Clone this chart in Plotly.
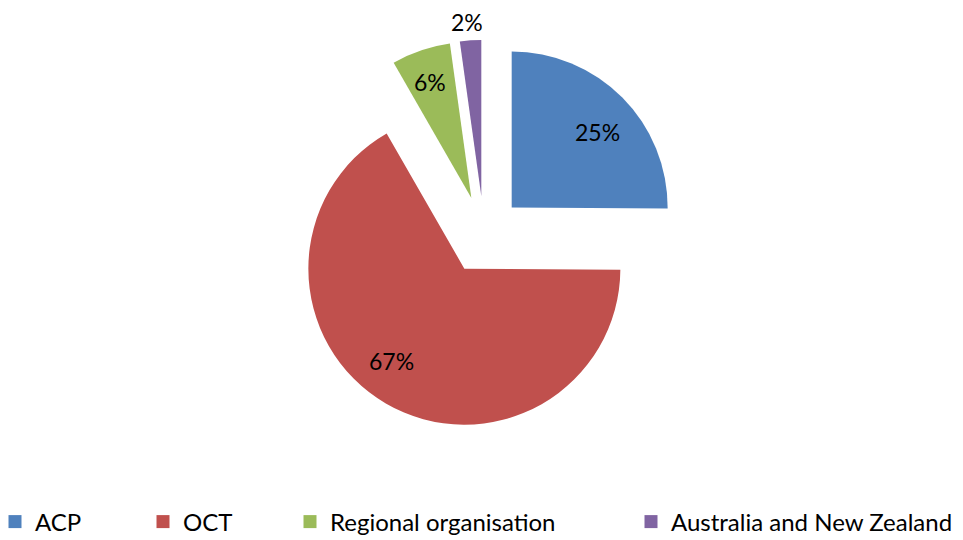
import math
import plotly.graph_objects as go

labels = ["ACP", "OCT", "Regional organisation", "Australia and New Zealand"]
values = [25.1, 66.6, 6.1, 2.2]
colors = ["#4F81BD", "#C0504D", "#9BBB59", "#8064A2"]

# ---- styling / layout (not data) ----
FONT = "Lato"
OFF = 8                      # page body margin of the browser
W, H = 963 - OFF, 540 - OFF  # figure fills the visible window
PULL = 0.25
CENTER_PX = (476, 227)       # pie centre in figure pixels
RADIUS_PX = 156
label_radius = [0.73, 0.75, 0.79, 1.12]     # label distance from slice tip, in radii
label_angle_shift = [2.6, 6.0, -0.6, -0.5]  # degrees
legend_x_px = [-13, 135, 282, 623]
legend_y_px = 514

half = RADIUS_PX * (1 + PULL)
DOMAIN_X = [(CENTER_PX[0] - half) / W, (CENTER_PX[0] + half) / W]
DOMAIN_Y = [1 - (CENTER_PX[1] + half) / H, 1 - (CENTER_PX[1] - half) / H]

fig = go.Figure()
fig.add_trace(
    go.Pie(
        labels=labels,
        values=values,
        sort=False,
        direction="clockwise",
        rotation=0,
        pull=[PULL] * len(values),
        marker=dict(colors=colors, line=dict(width=0)),
        textinfo="none",
        domain=dict(x=DOMAIN_X, y=DOMAIN_Y),
        hoverinfo="label+percent",
        showlegend=False,
    )
)

# percentage labels, placed from the data (mid-angle of every slice)
cx, cy = CENTER_PX
r = RADIUS_PX
total = sum(values)
cum = 0
annotations = []
for v, f, da in zip(values, label_radius, label_angle_shift):
    mid = 2 * math.pi * (cum + v / 2) / total + math.radians(da)
    cum += v
    d = (PULL + f) * r
    px = cx + d * math.sin(mid)
    py = cy - d * math.cos(mid)
    annotations.append(
        dict(
            x=px / W, y=1 - py / H, xref="paper", yref="paper",
            text=f"{round(100 * v / total)}%", showarrow=False,
            xanchor="center", yanchor="middle", height=26, valign="middle",
            font=dict(family=FONT, size=23, color="black"),
        )
    )

# legend: one entry per category, spread like the original
legend_layout = {}
for i, (lab, col) in enumerate(zip(labels, colors)):
    key = "legend" if i == 0 else f"legend{i + 1}"
    fig.add_trace(
        go.Scatter(
            x=[None], y=[None], mode="markers", name=lab,
            marker=dict(symbol="square", size=13, color=col),
            legend=key, showlegend=True, hoverinfo="skip",
        )
    )
    legend_layout[key] = dict(
        x=legend_x_px[i] / W, xanchor="left",
        y=1 - legend_y_px / H, yanchor="middle",
        orientation="h",
        bgcolor="rgba(0,0,0,0)",
        font=dict(family=FONT, size=24, color="black"),
        itemwidth=30,
    )

fig.update_layout(
    width=W,
    height=H,
    margin=dict(l=0, r=0, t=0, b=0, autoexpand=False),
    paper_bgcolor="white",
    plot_bgcolor="white",
    font=dict(family=FONT, size=23, color="black"),
    xaxis=dict(visible=False),
    yaxis=dict(visible=False),
    annotations=annotations,
    **legend_layout,
)

fig.write_html("out.html")
